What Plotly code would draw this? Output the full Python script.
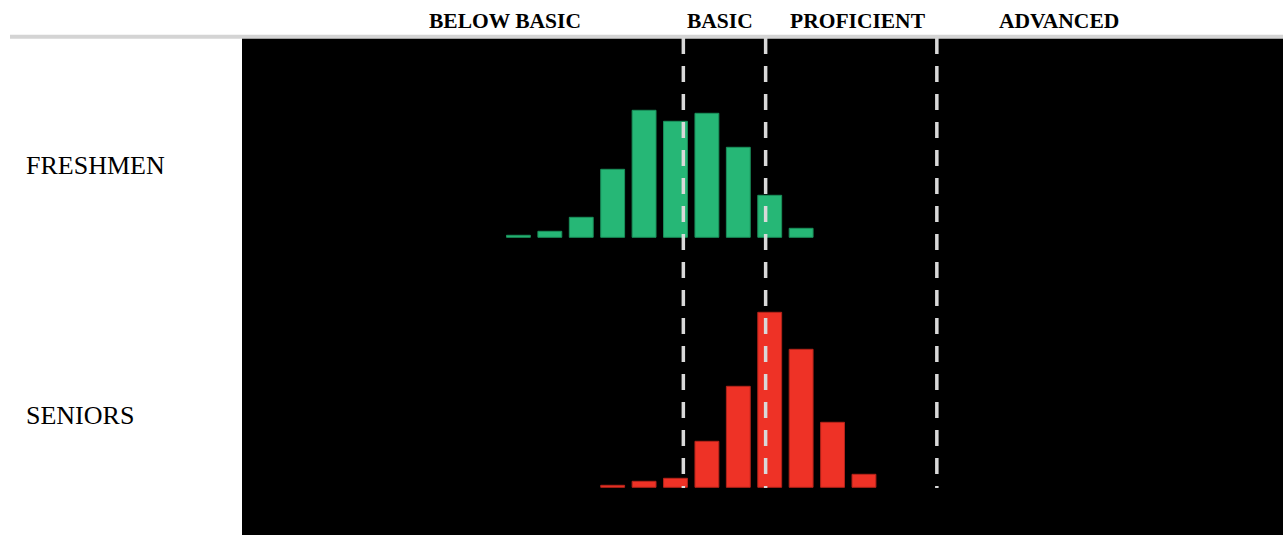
import plotly.graph_objects as go

# Score bins (bin centers) and counts
fresh_bins = [88, 98, 108, 118, 128, 138, 148, 158, 168, 178]
fresh_counts = [2, 6, 20, 68, 127, 116, 124, 90, 42, 9]
senior_bins = [118, 128, 138, 148, 158, 168, 178, 188, 198]
senior_counts = [2, 6, 9, 46, 101, 175, 138, 65, 13]

cut_scores = [140.5, 166.7, 221.2]
level_labels = ["BELOW BASIC", "BASIC", "PROFICIENT", "ADVANCED"]
level_label_x = [83.7, 152.2, 196.1, 260.1]
row_labels = ["FRESHMEN", "SENIORS"]

W, H = 1283, 535
ML, MT = 242, 38
pw, ph = W - ML, H - MT

fig = go.Figure()
fig.add_trace(go.Bar(x=fresh_bins, y=fresh_counts, width=7.6,
                     marker=dict(color="#26b776", line=dict(color="#1a8f5a", width=1)),
                     xaxis="x", yaxis="y", showlegend=False, hoverinfo="skip"))
fig.add_trace(go.Bar(x=senior_bins, y=senior_counts, width=7.6,
                     marker=dict(color="#ee3226", line=dict(color="#b3231a", width=1)),
                     xaxis="x", yaxis="y2", showlegend=False, hoverinfo="skip"))

def py(pix):
    return (H - pix) / ph

def px(pix):
    return (pix - ML) / pw

shapes = [dict(type="rect", xref="paper", yref="paper", x0=0, x1=1, y0=0, y1=1,
               fillcolor="black", line=dict(width=0), layer="below")]
for c in cut_scores:
    shapes.append(dict(type="line", xref="x", yref="paper", x0=c, x1=c,
                       y0=1, y1=py(488),
                       line=dict(color="#d9d9d9", width=3.5, dash="16px,12px"),
                       layer="above"))
shapes.append(dict(type="line", xref="paper", yref="paper", x0=px(10), x1=1,
                   y0=py(36.8), y1=py(36.8),
                   line=dict(color="#d4d4d4", width=4)))

annotations = []
for lab, lx in zip(level_labels, level_label_x):
    annotations.append(dict(text=lab, x=lx, xref="x", y=py(21.5), yref="paper",
                            showarrow=False, xanchor="center", yanchor="middle",
                            font=dict(family="Liberation Serif", size=21.5, color="black",
                                      weight="bold")))
for lab, ly in zip(row_labels, [165, 415]):
    annotations.append(dict(text=lab, x=px(24), xref="paper", y=py(ly), yref="paper",
                            showarrow=False, xanchor="left", yanchor="middle",
                            font=dict(family="Liberation Serif", size=26, color="black")))

axis_off = dict(showgrid=False, zeroline=False, showticklabels=False, ticks="",
                showline=False, fixedrange=True)
fig.update_layout(
    width=W, height=H,
    margin=dict(l=ML, r=0, t=MT, b=0, pad=0),
    paper_bgcolor="white", plot_bgcolor="black",
    xaxis=dict(range=[0, 331.4], domain=[0, 1], anchor="y2", **axis_off),
    yaxis=dict(range=[-49.2, 199.3], domain=[0.5, 1], anchor="x", **axis_off),
    yaxis2=dict(range=[-47.7, 200.8], domain=[0, 0.5], anchor="x", **axis_off),
    shapes=shapes, annotations=annotations, barmode="overlay",
)
fig.write_html("out.html", config={"displayModeBar": False},
               post_script="document.body.style.margin='0';document.body.style.overflow='hidden';")
